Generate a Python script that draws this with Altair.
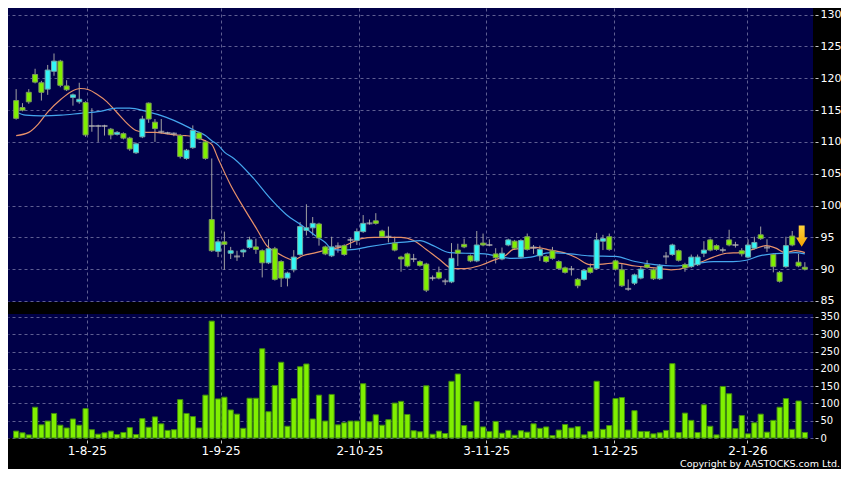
import altair as alt
import pandas as pd

# ---------------- data ----------------
opens = [116.5, 115.4, 117.8, 120.6, 119.3, 118.3, 121.1, 122.7, 118.8, 117.0,
         116.3, 116.2, 112.5, 112.5, 112.5, 112.0, 111.2, 111.3, 110.6, 108.3,
         110.8, 116.1, 113.1, 111.6, 111.4, 111.3, 111.0, 107.4, 109.1, 111.4,
         110.0, 97.8, 92.8, 94.3, 92.5, 92.0, 92.7, 93.4, 93.5, 92.9,
         91.0, 93.2, 91.2, 88.6, 89.9, 92.3, 96.1, 96.5, 97.1, 93.5,
         92.1, 93.6, 93.7, 94.6, 94.5, 95.9, 97.2, 97.6, 96.0, 95.1,
         94.1, 91.9, 92.4, 91.6, 91.2, 90.8, 88.6, 89.5, 88.1, 88.0,
         93.0, 93.9, 92.1, 91.3, 94.1, 93.8, 92.4, 91.6, 93.8, 94.4,
         91.9, 95.1, 93.4, 92.1, 92.0, 92.9, 91.2, 90.2, 90.0, 88.4,
         88.4, 90.2, 90.1, 94.4, 95.1, 91.3, 89.9, 86.9, 87.8, 88.6,
         90.7, 89.9, 88.5, 92.0, 92.3, 92.9, 90.7, 90.4, 90.7, 92.5,
         94.6, 93.7, 93.0, 94.6, 93.8, 92.9, 91.9, 93.3, 95.4, 93.4,
         92.3, 89.5, 90.4, 95.2, 91.1, 90.3]
closes = [113.7, 115.0, 116.3, 119.4, 117.8, 121.3, 122.7, 118.9, 118.2, 117.4,
          116.7, 111.1, 112.5, 112.5, 112.5, 111.1, 111.5, 110.6, 108.9, 109.7,
          113.6, 113.6, 112.1, 111.6, 111.4, 111.3, 107.7, 108.7, 111.8, 110.5,
          107.4, 92.9, 94.3, 93.9, 92.9, 92.0, 93.0, 94.6, 93.1, 91.0,
          93.2, 88.4, 88.6, 89.4, 91.9, 96.7, 96.5, 97.2, 94.9, 92.4,
          93.5, 93.6, 92.3, 94.6, 95.9, 97.2, 97.2, 97.2, 95.1, 95.1,
          93.0, 91.6, 90.5, 91.6, 90.6, 86.7, 88.6, 88.6, 88.1, 91.7,
          92.5, 93.5, 91.3, 93.8, 93.8, 93.8, 91.8, 92.5, 94.6, 93.3,
          94.5, 93.1, 93.4, 93.1, 91.2, 91.7, 90.1, 89.5, 90.0, 87.4,
          89.8, 89.5, 94.6, 94.8, 93.1, 90.0, 87.4, 86.9, 89.1, 90.0,
          90.3, 88.5, 90.5, 92.0, 93.8, 91.4, 90.2, 91.9, 91.9, 93.0,
          93.0, 93.1, 93.0, 93.8, 93.8, 92.4, 93.8, 94.2, 94.8, 93.4,
          90.4, 88.1, 93.7, 93.8, 90.5, 90.0]
highs = [118.3, 116.1, 118.3, 121.5, 119.6, 122.1, 123.9, 122.9, 119.7, 117.6,
         119.3, 116.4, 115.3, 112.7, 112.7, 112.2, 111.7, 111.5, 110.8, 109.9,
         114.1, 116.2, 113.6, 113.6, 111.6, 111.5, 111.2, 108.9, 112.6, 111.6,
         110.3, 107.4, 94.7, 95.9, 93.5, 92.9, 93.2, 95.1, 94.8, 93.1,
         94.7, 93.5, 91.4, 89.6, 93.0, 97.4, 100.2, 98.2, 97.3, 93.7,
         95.1, 94.2, 93.9, 94.9, 96.4, 98.5, 97.8, 98.8, 96.2, 96.7,
         95.1, 92.1, 92.6, 92.4, 91.4, 91.0, 89.0, 90.4, 88.5, 94.1,
         94.0, 94.8, 92.3, 96.0, 95.6, 94.7, 93.3, 93.4, 94.8, 94.6,
         94.7, 95.6, 93.8, 93.7, 92.2, 93.5, 91.4, 90.4, 90.5, 88.6,
         90.0, 90.9, 95.7, 95.4, 95.6, 91.5, 90.8, 88.4, 89.3, 90.5,
         91.4, 90.1, 90.8, 92.7, 94.0, 93.1, 91.0, 92.3, 92.3, 94.4,
         94.8, 93.9, 93.4, 96.2, 94.3, 93.3, 94.7, 95.1, 96.7, 94.7,
         92.5, 89.7, 95.1, 96.0, 92.4, 91.1]
lows = [113.5, 114.8, 116.0, 119.2, 116.5, 117.4, 120.4, 118.6, 118.0, 115.7,
        116.0, 110.8, 111.6, 110.0, 111.0, 110.4, 111.0, 110.4, 108.6, 108.1,
        110.6, 113.0, 110.0, 111.3, 111.2, 110.9, 107.4, 107.2, 108.9, 110.3,
        107.2, 92.7, 91.9, 89.9, 91.6, 91.3, 91.9, 93.2, 92.4, 88.7,
        90.8, 88.2, 87.2, 87.3, 89.5, 92.1, 95.3, 95.3, 93.7, 92.2,
        91.9, 92.6, 92.1, 93.3, 93.8, 95.7, 97.0, 97.0, 94.9, 94.2,
        92.8, 89.6, 90.3, 91.1, 90.4, 86.4, 88.2, 88.4, 87.5, 87.8,
        90.5, 93.3, 91.1, 91.1, 93.6, 93.6, 90.9, 91.4, 93.6, 93.1,
        91.7, 92.9, 92.4, 91.3, 91.0, 91.5, 89.9, 89.3, 89.0, 87.0,
        88.2, 89.3, 89.9, 93.0, 92.9, 89.8, 87.2, 86.6, 87.5, 88.4,
        90.1, 88.3, 88.3, 90.8, 92.1, 91.2, 89.6, 90.2, 90.5, 91.9,
        92.8, 92.9, 92.6, 93.6, 93.4, 92.0, 91.7, 93.1, 94.6, 92.7,
        89.5, 87.9, 90.2, 93.6, 90.3, 89.8]
volumes = [20, 15, 9, 89, 38, 49, 71, 37, 29, 55,
           37, 85, 24, 11, 15, 20, 10, 16, 30, 10,
           56, 31, 61, 41, 22, 24, 111, 71, 62, 29,
           124, 338, 113, 118, 81, 69, 28, 115, 115, 258,
           76, 152, 219, 34, 114, 206, 214, 55, 124, 49,
           126, 38, 44, 49, 49, 157, 47, 67, 37, 53,
           101, 106, 68, 21, 18, 151, 11, 20, 13, 164,
           185, 36, 19, 105, 32, 19, 48, 14, 22, 8,
           21, 17, 41, 28, 32, 7, 23, 39, 29, 33,
           9, 19, 164, 25, 36, 114, 117, 23, 79, 19,
           19, 12, 15, 22, 215, 16, 72, 51, 16, 96,
           34, 9, 149, 128, 27, 65, 12, 44, 69, 17,
           51, 89, 114, 25, 107, 16]

ma_short_x = [0, 2, 3.5, 5, 7.1, 8.7, 10.2, 11.5, 12.8, 14.4, 15.9, 17.5, 19, 20.6,
              22.1, 23.7, 25.2, 26.8, 28.3, 29.9, 31, 32, 34, 36.1, 38.2, 39.7, 41.3,
              42.8, 43.9, 45.4, 47.5, 49.5, 51.6, 53.2, 54.7, 56.8, 58.9, 61, 63, 65,
              67, 69.2, 71.2, 73.3, 75.4, 77.5, 78.8, 80.6, 82.6, 84.7, 86.8, 88.8,
              90.9, 93, 95, 98.1, 101.2, 103.8, 106.4, 108.5, 110.5, 112.6, 114.7,
              116.8, 118.8, 120.4, 121.9, 123.5, 125]
ma_short_v = [111.0, 111.5, 112.8, 114.7, 116.7, 117.9, 118.4, 118.2, 117.5, 116.3,
              114.7, 113.0, 111.8, 111.5, 111.5, 111.3, 111.1, 111.0, 110.8, 110.2,
              109.6, 107.4, 103.2, 99.6, 96.2, 93.7, 92.6, 91.8, 91.4, 92.1, 92.6,
              93.1, 93.5, 94.2, 94.8, 95.0, 95.0, 95.0, 94.5, 93.1, 91.6, 90.1, 90.1,
              90.5, 91.3, 92.1, 93.1, 93.3, 93.4, 93.0, 92.6, 91.8, 90.7, 90.8, 91.0,
              90.5, 90.2, 89.9, 90.3, 91.1, 91.9, 92.5, 92.6, 93.1, 93.7, 93.3, 92.6,
              92.9, 92.6]
ma_long_x = [0, 1.5, 4, 7.1, 10.2, 13.3, 15.9, 18, 20.6, 23.7, 26.3, 28.3, 30, 31,
             32, 33, 34.5, 37.6, 40.2, 42.8, 45.4, 47.5, 49, 50.1, 51.6, 53.7, 55.7,
             58.9, 62, 64, 66.1, 68.7, 71.2, 74.3, 76.4, 78.5, 81.6, 84.7, 87.8,
             90.9, 95, 98.1, 101.2, 104.3, 107.4, 110.5, 113.6, 115.7, 117.8, 119.9,
             121.9, 123.5, 125]
ma_long_v = [114.7, 114.2, 114.1, 114.2, 114.5, 114.8, 115.3, 115.3, 114.8, 113.9,
             112.8, 111.8, 111.0, 110.2, 109.5, 108.4, 107.4, 104.3, 101.2, 98.6,
             96.8, 95.2, 94.2, 93.1, 93.0, 93.1, 93.5, 94.0, 94.3, 94.5, 93.7, 92.6,
             92.5, 92.4, 92.0, 91.7, 91.9, 92.6, 92.4, 92.1, 92.0, 91.2, 90.7, 90.5,
             90.8, 91.2, 91.2, 91.4, 92.1, 92.4, 92.5, 92.6, 92.4]

date_ticks = [11.2, 32.4, 54.4, 74.5, 94.8, 115.9]
date_labels = ["1-8-25", "1-9-25", "2-10-25", "3-11-25", "1-12-25", "2-1-26"]
price_ticks = [85, 90, 95, 100, 105, 110, 115, 120, 125, 130]
volume_ticks = [0, 50, 100, 150, 200, 250, 300, 350]
arrow_x = [124.5]
arrow_y = [95.2]
copyright_text = ["Copyright by AASTOCKS.com Ltd."]

# ---------------- tables ----------------
n = len(opens)
df = pd.DataFrame({"i": list(range(n)), "open": opens, "close": closes,
                   "high": highs, "low": lows, "vol": volumes})
df["dir"] = ["up" if c > o else ("down" if c < o else "flat") for o, c in zip(opens, closes)]
ma_s = pd.DataFrame({"i": ma_short_x, "v": ma_short_v})
ma_l = pd.DataFrame({"i": ma_long_x, "v": ma_long_v})
arrow_df = pd.DataFrame({"i": arrow_x, "v": arrow_y})
copy_df = pd.DataFrame({"t": copyright_text})

# ---------------- styling ----------------
FONT = "DejaVu Sans"
GREEN = "#80F000"
CYAN = "#33F6F6"
GRID = "#5E5E92"
W = 805

xs = alt.Scale(domain=[-0.5, 125.5], nice=False, zero=False)
ys = alt.Scale(domain=[84.84, 131.05], nice=False, zero=False)
vs = alt.Scale(domain=[0, 358.5], nice=False, zero=False)

x_main_axis = alt.Axis(values=date_ticks, labels=False, ticks=False, domain=False,
                       grid=True, gridColor=GRID, gridDash=[3, 3], title=None)
y_main_axis = alt.Axis(orient="right", values=price_ticks, grid=True, gridColor=GRID,
                       gridDash=[3, 3], domain=False, tickSize=3, tickColor="#C8C8C8",
                       offset=2, labelPadding=2, labelFontSize=11, labelColor="#FFFFFF",
                       labelFont=FONT, title=None, labelOverlap=False, labelFlush=False,
                       labelBound=False)

label_expr = "[" + ",".join("'%s'" % s for s in date_labels) + "][indexof([" + \
    ",".join(str(v) for v in date_ticks) + "], datum.value)]"
x_vol_axis = alt.Axis(values=date_ticks, labelExpr=label_expr, tickSize=3,
                      tickColor="#C8C8C8", offset=2, labelPadding=2, labelFontSize=12,
                      labelColor="#FFFFFF", labelFont=FONT, grid=True, gridColor=GRID,
                      gridDash=[3, 3], domain=False, title=None, labelOverlap=False,
                      labelFlush=False)
y_vol_axis = alt.Axis(orient="right", values=volume_ticks, grid=True, gridColor=GRID,
                      gridDash=[3, 3], domain=False, tickSize=3, tickColor="#C8C8C8",
                      offset=2, labelPadding=2, labelFontSize=10, labelColor="#FFFFFF",
                      labelFont=FONT, title=None, labelOverlap=False, labelFlush=False)

X = alt.X("i:Q", scale=xs, axis=x_main_axis)


def Y(field):
    return alt.Y(field, scale=ys, axis=y_main_axis)


base = alt.Chart(df)

wicks = base.mark_rule(color="#A0A0A0", strokeWidth=1).encode(
    x=X, y=Y("low:Q"), y2="high:Q")
bodies = base.transform_filter("datum.dir != 'flat'").mark_bar(
    size=5, strokeWidth=1).encode(
    x=X, y=Y("open:Q"), y2="close:Q",
    fill=alt.Fill("dir:N", scale=alt.Scale(domain=["up", "down"], range=[CYAN, GREEN]),
                  legend=None),
    stroke=alt.Stroke("dir:N", scale=alt.Scale(domain=["up", "down"],
                      range=["#6FA8A8", "#7C9A5C"]), legend=None),
)
dojis = base.transform_filter("datum.dir == 'flat'").mark_tick(
    orient="horizontal", size=6, thickness=2, color="#B4B4B4").encode(
    x=X, y=Y("open:Q"))
line_s = alt.Chart(ma_s).mark_line(color="#E8916A", strokeWidth=1.2,
                                   interpolate="monotone").encode(x=X, y=Y("v:Q"))
line_l = alt.Chart(ma_l).mark_line(color="#45A6EE", strokeWidth=1.2,
                                   interpolate="monotone").encode(x=X, y=Y("v:Q"))

arrow_path = "M-0.28,-1L0.28,-1L0.28,0.14L0.54,0.14L0,1L-0.54,0.14L-0.28,0.14Z"
arrow = alt.Chart(arrow_df).mark_point(
    shape=arrow_path, size=450, filled=True, opacity=1, strokeWidth=0,
    fill=alt.Gradient(gradient="linear", x1=0, x2=0, y1=0, y2=1,
                      stops=[alt.GradientStop(color="#FFD23C", offset=0),
                             alt.GradientStop(color="#F5A300", offset=1)])
).encode(x=X, y=Y("v:Q"))

main = alt.layer(wicks, line_s, line_l, bodies, dojis, arrow).properties(
    width=W, height=294)

vol_bars = base.mark_bar(size=5.2, fill=GREEN, stroke="#3F8A10", strokeWidth=1).encode(
    x=alt.X("i:Q", scale=xs, axis=x_vol_axis),
    y=alt.Y("vol:Q", scale=vs, axis=y_vol_axis),
)
copy_txt = alt.Chart(copy_df).mark_text(
    align="right", baseline="middle", font=FONT, fontSize=9.5, color="#FFFFFF"
).encode(text="t:N", x=alt.value(832), y=alt.value(150))

vol = alt.layer(vol_bars, copy_txt).properties(width=W, height=124)

chart = alt.vconcat(main, vol, spacing=12).properties(
    padding=0, background="#000000", bounds="flush"
).configure_view(fill="#000048", strokeWidth=0).configure_axis(labelOverlap=False)

chart.save("out.html", embed_options={"renderer": "svg", "actions": False})
